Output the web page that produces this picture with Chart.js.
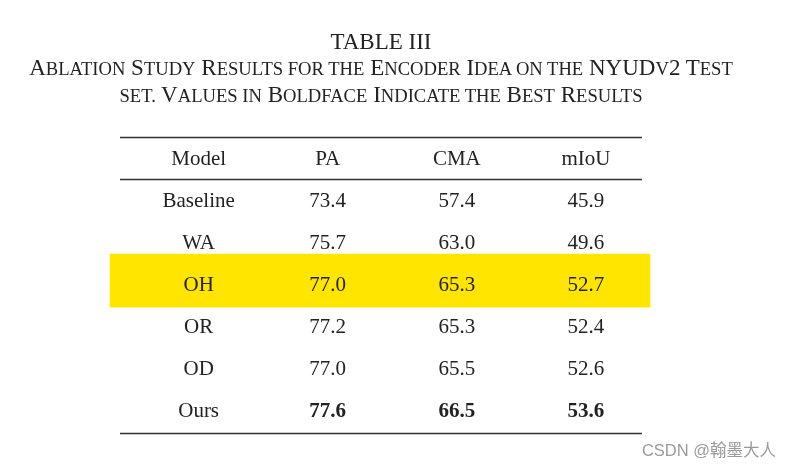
<!DOCTYPE html>
<html lang="en">
<head>
    <meta charset="UTF-8">
    <title>Table III - Ablation Study</title>
    <script src="https://cdn.jsdelivr.net/npm/chart.js"></script>
    <style>
        body { margin: 0; background: #fff; }
        #wrap { position: relative; width: 792px; height: 473px; }
        .cap {
            position: absolute; left: 0; width: 762px; text-align: center;
            font-family: "Liberation Serif", "Times New Roman", serif;
            font-size: 23px; line-height: 27px; color: #222; white-space: nowrap;
        }
        /* hand made small caps: lowercase runs drawn as smaller capitals */
        .s { font-size: 18.6px; text-transform: uppercase; }
        #mark {
            position: absolute; right: 16px; top: 439px;
            font-family: "Liberation Sans", "Noto Sans CJK SC", sans-serif;
            font-size: 16.5px; line-height: 22px; color: #9a9a9a;
        }
        canvas { position: absolute; left: 0; top: 0; }
    </style>
</head>
<body>
<div id="wrap">
    <canvas id="tableChart" width="792" height="473"></canvas>
    <div class="cap" style="top:28px">TABLE III</div>
    <div class="cap" style="top:54px">A<span class="s">blation</span> S<span class="s">tudy</span> R<span class="s">esults for the</span> E<span class="s">ncoder</span> I<span class="s">dea on the</span> NYUD<span class="s">v</span>2 T<span class="s">est</span></div>
    <div class="cap" style="top:81px"><span class="s">set.</span> V<span class="s">alues in</span> B<span class="s">oldface</span> I<span class="s">ndicate the</span> B<span class="s">est</span> R<span class="s">esults</span></div>
    <div id="mark">CSDN @翰墨大人</div>
</div>
<script>
    // table content
    const columns = ["Model", "PA", "CMA", "mIoU"];
    const models = ["Baseline", "WA", "OH", "OR", "OD", "Ours"];
    const pa = [73.4, 75.7, 77.0, 77.2, 77.0, 77.6];
    const cma = [57.4, 63.0, 65.3, 65.3, 65.5, 66.5];
    const miou = [45.9, 49.6, 52.7, 52.4, 52.6, 53.6];
    const highlighted = "OH";
    const best = "Ours";

    const series = [pa, cma, miou];
    const xMin = -0.609, xMax = 3.434;
    const yMin = -0.5, yMax = 6.55;

    // row index 0 is the header, data rows start at 1
    const hlRow = models.indexOf(highlighted) + 1;

    const tablePlugin = {
        id: "tableText",
        afterDatasetsDraw(chart) {
            const ctx = chart.ctx;
            const x = chart.scales.x, y = chart.scales.y;
            const area = chart.chartArea;
            const serif = '"Liberation Serif", "Times New Roman", serif';

            // rules
            ctx.save();
            ctx.strokeStyle = "#333";
            ctx.lineWidth = 1.4;
            [yMin, 0.5, yMax].forEach(v => {
                const py = Math.round(y.getPixelForValue(v)) + 0.5;
                ctx.beginPath();
                ctx.moveTo(area.left, py);
                ctx.lineTo(area.right, py);
                ctx.stroke();
            });

            ctx.fillStyle = "#222";
            ctx.textAlign = "center";
            ctx.textBaseline = "alphabetic";

            columns.forEach((c, ci) => {
                ctx.font = "21px " + serif;
                ctx.fillText(c, x.getPixelForValue(ci), y.getPixelForValue(0) + 7.5);
            });

            models.forEach((m, ri) => {
                const py = y.getPixelForValue(ri + 1) + 7.5;
                ctx.font = "21px " + serif;
                ctx.fillText(m, x.getPixelForValue(0), py);
                ctx.font = (m === best ? "bold " : "") + "21px " + serif;
                series.forEach((s, si) => {
                    ctx.fillText(s[ri].toFixed(1), x.getPixelForValue(si + 1), py);
                });
            });
            ctx.restore();
        }
    };

    new Chart(document.getElementById("tableChart"), {
        type: "bar",
        data: {
            datasets: [{
                label: "highlight",
                data: [{ x: [xMin - 0.077, xMax + 0.062], y: hlRow - 0.08 }],
                backgroundColor: "rgb(255, 229, 0)",
                barThickness: 53,
                clip: false
            }]
        },
        options: {
            indexAxis: "y",
            responsive: false,
            animation: false,
            events: [],
            layout: { padding: { left: 120, right: 150, top: 137, bottom: 40 } },
            plugins: { legend: { display: false }, tooltip: { enabled: false } },
            scales: {
                x: { type: "linear", min: xMin, max: xMax, offset: false, display: false },
                y: { type: "linear", min: yMin, max: yMax, reverse: true, offset: false, display: false }
            }
        },
        plugins: [tablePlugin]
    });
</script>
</body>
</html>
